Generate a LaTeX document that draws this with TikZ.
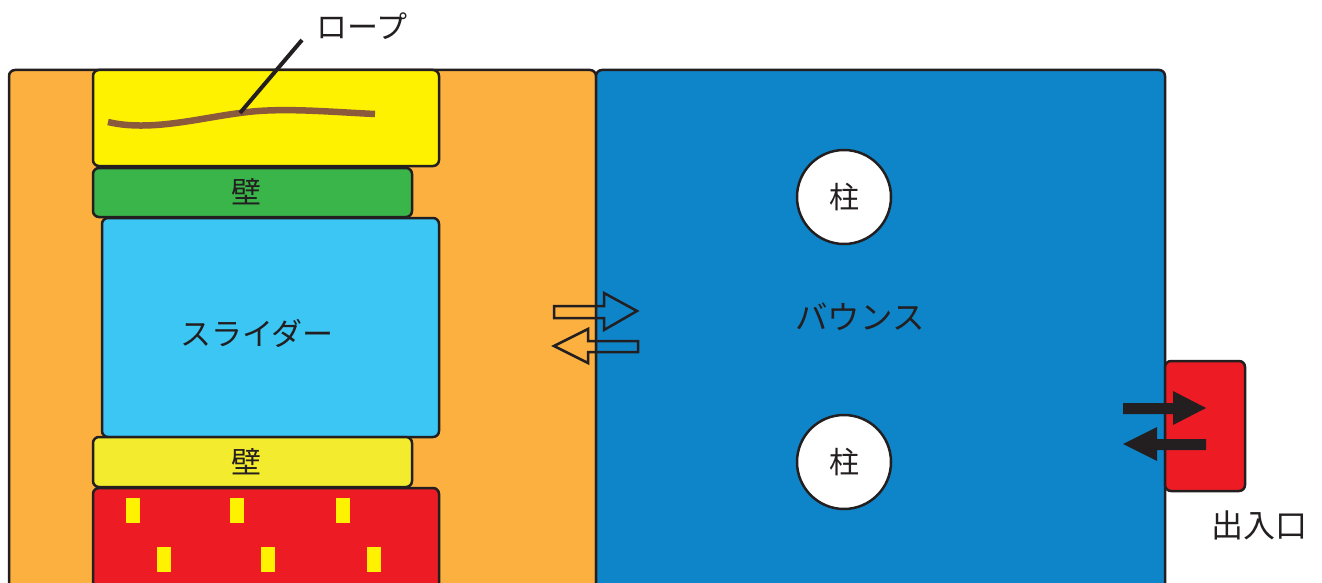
\documentclass[tikz,border=0pt]{standalone}
\usepackage{fontspec}
\setmainfont{Noto Sans CJK JP}
\definecolor{ink}{HTML}{231F20}
\definecolor{corange}{HTML}{FBB040}
\definecolor{cblue}{HTML}{0F85C9}
\definecolor{cyellow}{HTML}{FFF200}
\definecolor{cgreen}{HTML}{3AB54A}
\definecolor{ccyan}{HTML}{3BC6F4}
\definecolor{cyellowb}{HTML}{F3EB2E}
\definecolor{cred}{HTML}{ED1C24}
\definecolor{crope}{HTML}{8B5A3C}
\begin{document}
\begin{tikzpicture}[x=1pt,y=-1pt,
  box/.style={draw=ink, line width=2.5pt, rounded corners=6pt},
  lbl/.style={font=\fontsize{30}{34}\selectfont, text=ink, inner sep=0pt},
  hollow/.style={draw=ink, line width=2.5pt, line join=miter},
  solidarrow/.style={fill=ink, draw=none},
  spot/.style={fill=cyellow, draw=none}]
\useasboundingbox (0,0) rectangle (1322,583);
\clip (0,0) rectangle (1322,583);
% large areas
\path[box, fill=corange] (9,70) rectangle (596,610);
\path[box, fill=cblue] (596,70) rectangle (1165,610);
% left column
\path[box, fill=cyellow] (93,70) rectangle (439,166);
\path[box, fill=cgreen] (93,168) rectangle (412,217);
\path[box, fill=ccyan] (102,218) rectangle (439,437);
\path[box, fill=cyellowb] (93,437) rectangle (412,487);
\path[box, fill=cred] (93,488) rectangle (439,610);
% spots
\foreach \x in {126,230,336} \path[spot] (\x,498) rectangle ++(14,25);
\foreach \x in {157,261,367} \path[spot] (\x,547) rectangle ++(14,25);
% rope
\draw[crope, line width=6.5pt] (108,122) .. controls (150,132) and (200,118) .. (240,113)
   coordinate (ropept) .. controls (280,107) and (330,112) .. (375,114);
\node[lbl, anchor=west, font=\fontsize{31}{34}\selectfont] (ropelbl) at (316,26) {ロープ};
\coordinate (leadend) at (302,40);
\draw[ink, line width=4pt] (ropept) -- (leadend);
% labels
\node[lbl] (wall1) at (246,192) {壁};
\node[lbl, font=\fontsize{31}{34}\selectfont] (slider) at (257,333) {スライダー};
\node[lbl] (wall2) at (246,462) {壁};
\node[lbl, font=\fontsize{32.5}{36}\selectfont] (bounce) at (860,317) {バウンス};
% pillars
\node[circle, draw=ink, line width=2.5pt, fill=white, minimum size=94pt, lbl] (pillar1) at (844,197) {柱};
\node[circle, draw=ink, line width=2.5pt, fill=white, minimum size=94pt, lbl] (pillar2) at (844,462) {柱};
% hollow arrows
\draw[hollow] (554,306) -- (604,306) -- (604,293) -- (637,311) -- (604,330) -- (604,318) -- (554,318) -- cycle;
\draw[hollow] (638,341) -- (588,341) -- (588,329) -- (554,346) -- (588,363) -- (588,352) -- (638,352) -- cycle;
% exit
\path[box, fill=cred] (1165,361) rectangle (1245,491);
\node[lbl, font=\fontsize{32}{36}\selectfont] (exitlbl) at (1259,525) {出入口};
% solid arrows
\path[solidarrow] (1123,403) -- (1173,403) -- (1173,391) -- (1206,408) -- (1173,425) -- (1173,414) -- (1123,414) -- cycle;
\path[solidarrow] (1206,439) -- (1157,439) -- (1157,427) -- (1123,444) -- (1157,461) -- (1157,450) -- (1206,450) -- cycle;
\end{tikzpicture}
\end{document}
